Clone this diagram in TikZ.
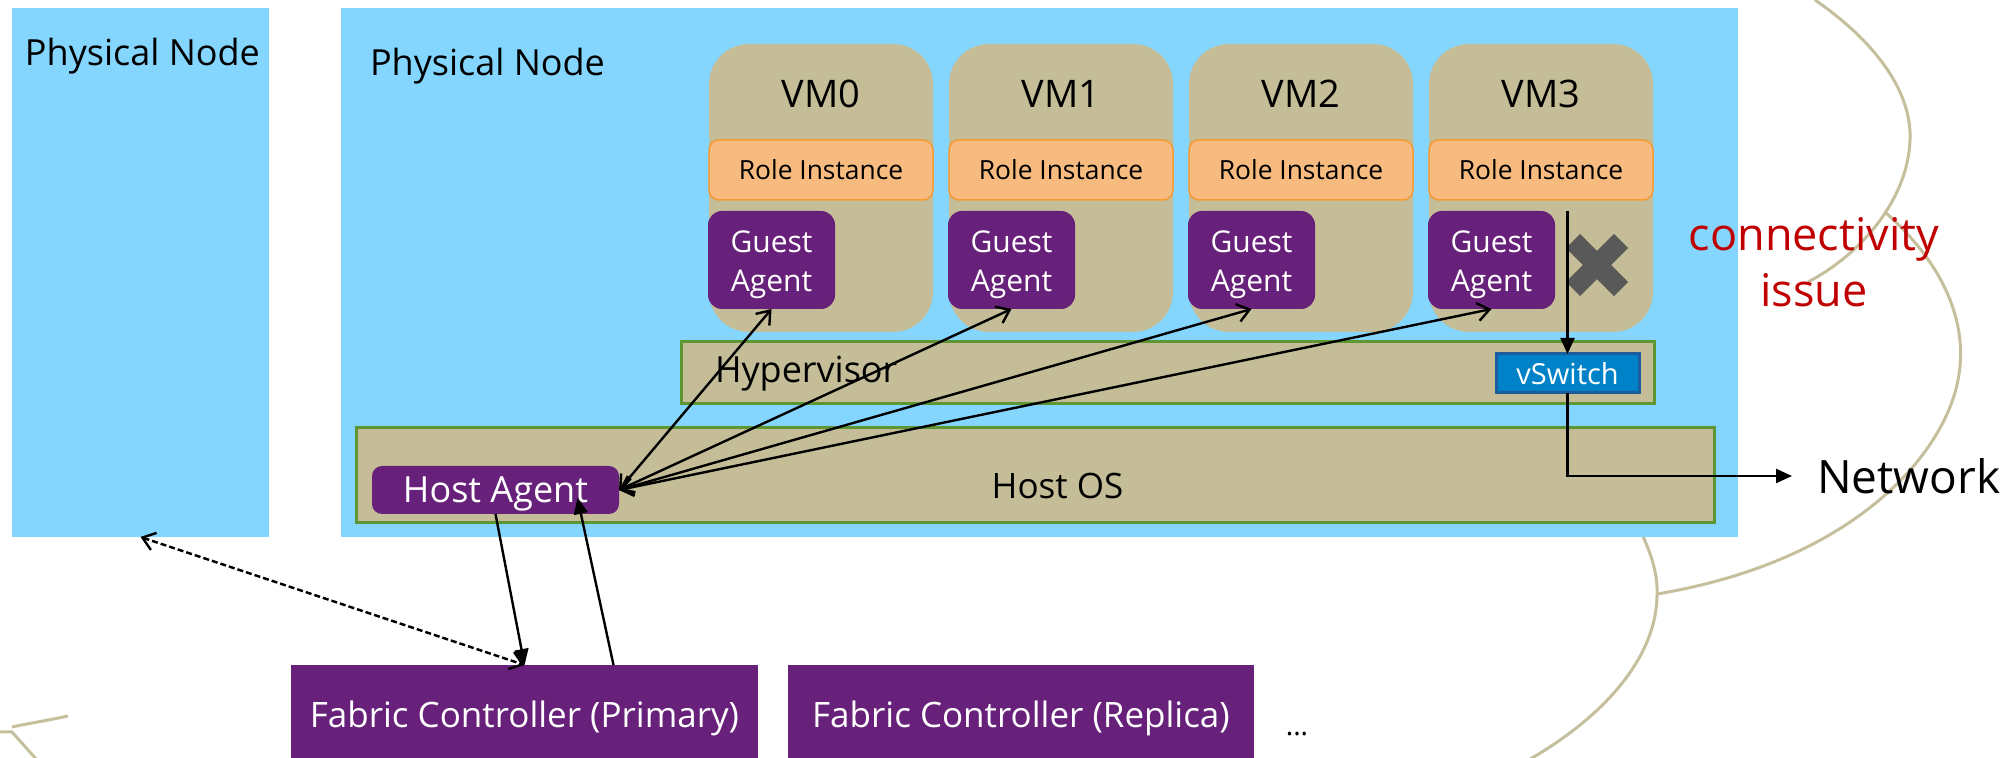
\documentclass[tikz,border=0pt]{standalone}
\usepackage{fontspec}
\setmainfont{Open Sans}
\usetikzlibrary{arrows.meta,calc,positioning}
\definecolor{nodeblue}{HTML}{84D6FF}
\definecolor{vmtan}{HTML}{C4BD97}
\definecolor{osgreen}{HTML}{5E9634}
\definecolor{roleorange}{HTML}{F8BB7F}
\definecolor{roleborder}{HTML}{F39A35}
\definecolor{agentpurple}{HTML}{68217A}
\definecolor{switchblue}{HTML}{0082C8}
\definecolor{switchborder}{HTML}{1D5C9B}
\definecolor{cloudline}{HTML}{C6BF9C}
\definecolor{issuered}{HTML}{C00000}
\definecolor{crossgray}{HTML}{595959}

\begin{document}
\begin{tikzpicture}[x=0.5pt, y=-0.5pt]
		\tikzstyle{every node}=[inner sep=0pt, outer sep=0pt]
		\tikzstyle{cloud}=[draw=cloudline, line width=1.5pt]
		\tikzstyle{physbox}=[fill=nodeblue]
		\tikzstyle{bigtext}=[font=\fontsize{19}{23}\selectfont]
		\tikzstyle{vmbox}=[fill=vmtan, rounded corners=20pt, minimum width=112pt, minimum height=144pt]
		\tikzstyle{rolebox}=[fill=roleorange, draw=roleborder, line width=0.75pt, rounded corners=5pt, minimum width=112pt, minimum height=30pt, font=\fontsize{13.2}{16}\selectfont]
		\tikzstyle{agentbox}=[fill=agentpurple, text=white, rounded corners=7pt, align=center]
		\tikzstyle{guestbox}=[agentbox, minimum width=63.5pt, minimum height=49pt, font=\fontsize{15}{19.5}\selectfont]
		\tikzstyle{osbox}=[fill=vmtan, draw=osgreen, line width=1.5pt]
		\tikzstyle{fcbox}=[fill=agentpurple, text=white, minimum height=46.5pt, text height=16.5pt, text depth=0pt, font=\fontsize{17.5}{21}\selectfont]
		\tikzstyle{agentlink}=[line width=1.2pt, {Straight Barb[length=6pt,width=9pt]}-{Straight Barb[length=6pt,width=9pt]}]
		\tikzstyle{fclink}=[line width=1.2pt, -{Triangle[length=8pt,width=7pt]}]
		\useasboundingbox (0,0) rectangle (2010,758);
		% cloud behind everything
		\draw [cloud] (1815,0) .. controls (1880,45) and (1912,95) .. (1910,140) .. controls (1908,200) and (1860,255) .. (1808,282);
		\draw [cloud] (1886,213) .. controls (1950,270) and (1968,330) .. (1958,380) .. controls (1945,450) and (1860,560) .. (1657,594);
		\draw [cloud] (1640,530) .. controls (1652,555) and (1658,575) .. (1657,596) .. controls (1656,660) and (1600,720) .. (1525,762);
		\draw [cloud] (68,716) .. controls (45,721) and (25,724) .. (12,727);
		\draw [cloud] (-2,732) -- (12,732) -- (37,760);
		% physical nodes
		\node [physbox, minimum width=128.5pt, minimum height=264.5pt] (pnleft) at (140.5,272.5) {};
		\node [font=\fontsize{18}{22}\selectfont, anchor=base west] (pnleftlabel) at (25,66) {Physical Node};
		\node [physbox, minimum width=698.5pt, minimum height=264.5pt] (pnmain) at (1039.5,272.5) {};
		\node [font=\fontsize{18}{22}\selectfont, anchor=base west] (pnmainlabel) at (370,76) {Physical Node};
		% VMs
		\node [vmbox] (vm0) at (821,188) {};
		\node [vmbox] (vm1) at (1061,188) {};
		\node [vmbox] (vm2) at (1301,188) {};
		\node [vmbox] (vm3) at (1541,188) {};
		\node [bigtext, anchor=base] (vmlabel0) at (821,108) {VM0};
		\node [bigtext, anchor=base] (vmlabel1) at (1061,108) {VM1};
		\node [bigtext, anchor=base] (vmlabel2) at (1301,108) {VM2};
		\node [bigtext, anchor=base] (vmlabel3) at (1541,108) {VM3};
		\node [rolebox] (role0) at (821,170) {Role Instance};
		\node [rolebox] (role1) at (1061,170) {Role Instance};
		\node [rolebox] (role2) at (1301,170) {Role Instance};
		\node [rolebox] (role3) at (1541,170) {Role Instance};
		\node [guestbox] (ga0) at (771.5,260) {\rule{0pt}{16pt}Guest\\Agent};
		\node [guestbox] (ga1) at (1011.5,260) {\rule{0pt}{16pt}Guest\\Agent};
		\node [guestbox] (ga2) at (1251.5,260) {\rule{0pt}{16pt}Guest\\Agent};
		\node [guestbox] (ga3) at (1491.5,260) {\rule{0pt}{16pt}Guest\\Agent};
		\draw [crossgray, line width=10pt] (1573,241) -- (1621,289) (1573,289) -- (1621,241);
		% hypervisor and host
		\node [osbox, minimum width=486.5pt, minimum height=31pt] (hyper) at (1167.5,373) {};
		\node [font=\fontsize{18}{22}\selectfont, anchor=base west] (hyperlabel) at (715,383) {Hypervisor};
		\node [fill=switchblue, draw=switchborder, line width=1.5pt, minimum width=71.5pt, minimum height=19.5pt, text=white, font=\fontsize{14.5}{17}\selectfont] (vswitch) at (1567.5,373.5) {vSwitch};
		\node [osbox, minimum width=679pt, minimum height=47.5pt] (hostos) at (1035,475.5) {};
		\node [font=\fontsize{17.5}{21}\selectfont, anchor=base] (hostoslabel) at (1057.5,499) {Host OS};
		\node [agentbox, rounded corners=5pt, minimum width=123.5pt, minimum height=24pt, text height=13pt, text depth=0pt, font=\fontsize{18}{21}\selectfont] (hostagent) at (495.5,490) {Host Agent};
		% fabric controllers
		\node [fcbox, minimum width=233.5pt] (fcp) at (524.5,711.5) {Fabric Controller (Primary)};
		\node [fcbox, minimum width=233pt] (fcr) at (1021,711.5) {Fabric Controller (Replica)};
		\node [font=\fontsize{14}{17}\selectfont, anchor=base] (more) at (1297,736) {...};
		\node [font=\fontsize{23}{28}\selectfont, anchor=west, inner xsep=12.5pt] (network) at (1792,476) {Network};
		\node [font=\fontsize{22.5}{28}\selectfont, text=issuered, align=center] (issue) at (1814,262) {connectivity\\issue};
		% links
		\draw [agentlink] (hostagent.east) -- (ga0.south);
		\draw [agentlink] (hostagent.east) -- (ga1.south);
		\draw [agentlink] (hostagent.east) -- (ga2.south);
		\draw [agentlink] (hostagent.east) -- (ga3.south);
		\draw [fclink] (hostagent.south) -- (fcp.north);
		\draw [fclink] ($(fcp.north)+(89,0)$) -- ($(hostagent.south)+(82,-16)$);
		\draw [line width=1.2pt, dash pattern=on 3pt off 1.5pt, {Straight Barb[length=6pt,width=9pt]}-{Straight Barb[length=6pt,width=9pt]}] (pnleft.south) -- (fcp.north);
		\coordinate (vmexit) at (1567.5,211);
		\draw [fclink] (vmexit) -- (vswitch.north);
		\draw [fclink] (vswitch.south) |- (network.west);
		\end{tikzpicture}
\end{document}
